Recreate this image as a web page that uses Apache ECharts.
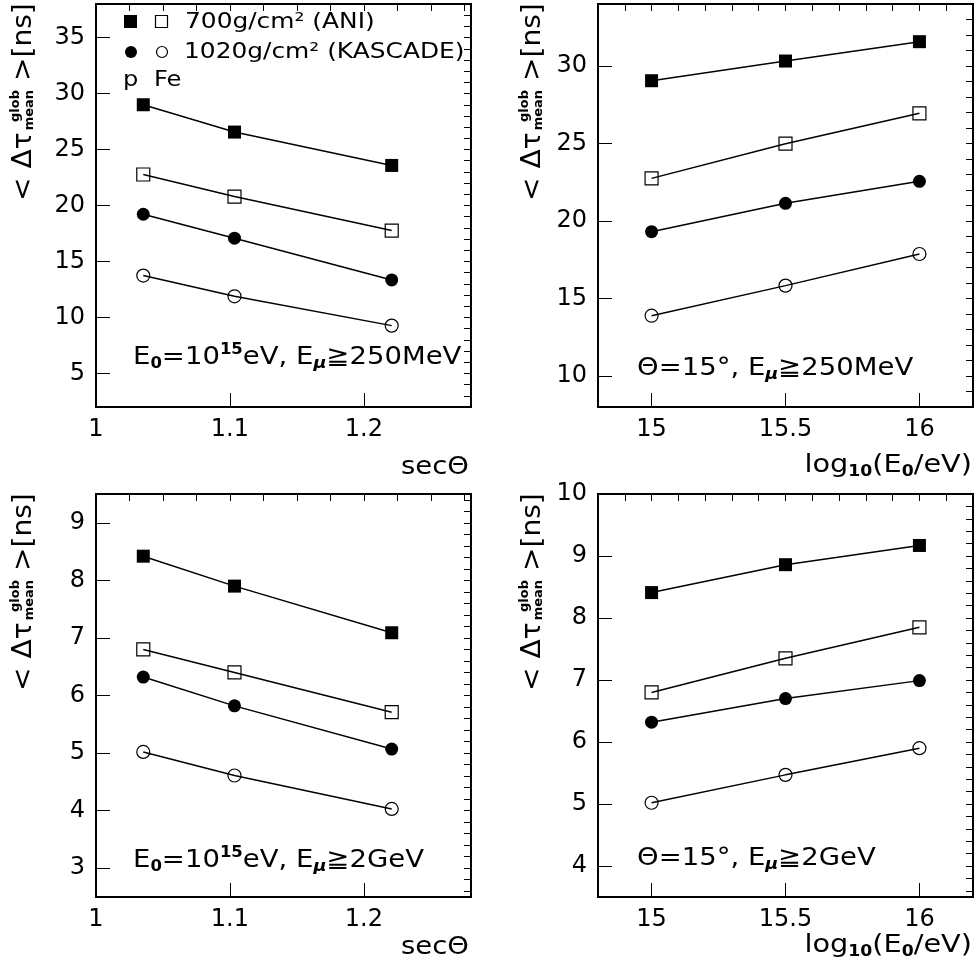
<!DOCTYPE html>
<html>
<head>
<meta charset="utf-8">
<script src="https://cdn.jsdelivr.net/npm/echarts@6/dist/echarts.min.js"></script>
<style>
  html, body { margin: 0; padding: 0; background: #fff; }
  #chart { width: 979px; height: 974px; }
</style>
</head>
<body>
<div id="chart"></div>
<script>
const FONT = 'DejaVu Sans';
const INK = '#000';

// abscissae
const secTheta = [1.0353, 1.1034, 1.2208];   // sec 15°, sec 25°, sec 35°
const logE0 = [15, 15.5, 16];

// <Δτ> [ns], E0 = 1e15 eV, Eμ ≥ 250 MeV, versus secΘ
const p700_250_sec   = [29.0, 26.56, 23.58];
const fe700_250_sec  = [22.77, 20.8, 17.76];
const p1020_250_sec  = [19.22, 17.08, 13.35];
const fe1020_250_sec = [13.74, 11.89, 9.27];

// Θ = 15°, Eμ ≥ 250 MeV, versus log10(E0/eV)
const p700_250_log   = [29.05, 30.32, 31.57];
const fe700_250_log  = [22.75, 24.99, 26.95];
const p1020_250_log  = [19.31, 21.14, 22.56];
const fe1020_250_log = [13.89, 15.83, 17.87];

// E0 = 1e15 eV, Eμ ≥ 2 GeV, versus secΘ
const p700_2_sec   = [8.42, 7.90, 7.09];
const fe700_2_sec  = [6.80, 6.40, 5.71];
const p1020_2_sec  = [6.32, 5.82, 5.07];
const fe1020_2_sec = [5.02, 4.61, 4.03];

// Θ = 15°, Eμ ≥ 2 GeV, versus log10(E0/eV)
const p700_2_log   = [8.41, 8.86, 9.17];
const fe700_2_log  = [6.80, 7.35, 7.85];
const p1020_2_log  = [6.32, 6.70, 6.99];
const fe1020_2_log = [5.02, 5.47, 5.90];

// tick labels
const secLabels = [1, 1.1, 1.2];
const logLabels = [15, 15.5, 16];
const yLabels250Sec = [5, 10, 15, 20, 25, 30, 35];
const yLabels250Log = [10, 15, 20, 25, 30];
const yLabels2Sec = [3, 4, 5, 6, 7, 8, 9];
const yLabels2Log = [4, 5, 6, 7, 8, 9, 10];

function seq(a, b, step) {
  const out = [];
  for (let v = a; v <= b + 1e-9; v += step) out.push(+v.toFixed(4));
  return out;
}

// marker styles: p (filled) / Fe (open), 700 g/cm² squares, 1020 g/cm² circles
const markers = [
  { symbol: 'rect', size: 13, fill: true },
  { symbol: 'rect', size: 13, fill: false },
  { symbol: 'circle', size: 13, fill: true },
  { symbol: 'circle', size: 13, fill: false }
];

const W = 375, H = 403;
const panels = [
  { left: 96, top: 4, xRange: [1, 1.28], xLabels: secLabels, xMinor: seq(1, 1.275, 0.025),
    yRange: [2, 38], yLabels: yLabels250Sec, yMinor: seq(3, 37, 1), xs: secTheta,
    ys: [p700_250_sec, fe700_250_sec, p1020_250_sec, fe1020_250_sec] },
  { left: 598, top: 4, xRange: [14.8, 16.2], xLabels: logLabels, xMinor: seq(14.9, 16.1, 0.1),
    yRange: [8, 34], yLabels: yLabels250Log, yMinor: seq(9, 33, 1), xs: logE0,
    ys: [p700_250_log, fe700_250_log, p1020_250_log, fe1020_250_log] },
  { left: 96, top: 494, xRange: [1, 1.28], xLabels: secLabels, xMinor: seq(1, 1.275, 0.025),
    yRange: [2.5, 9.5], yLabels: yLabels2Sec, yMinor: seq(2.6, 9.4, 0.2), xs: secTheta,
    ys: [p700_2_sec, fe700_2_sec, p1020_2_sec, fe1020_2_sec] },
  { left: 598, top: 494, xRange: [14.8, 16.2], xLabels: logLabels, xMinor: seq(14.9, 16.1, 0.1),
    yRange: [3.5, 10], yLabels: yLabels2Log, yMinor: seq(3.6, 9.8, 0.2), xs: logE0,
    ys: [p700_2_log, fe700_2_log, p1020_2_log, fe1020_2_log] }
];

function axisPair(gridIndex, range, labels, minor) {
  const base = {
    type: 'value', gridIndex, min: range[0], max: range[1],
    axisLine: { show: false }, splitLine: { show: false }
  };
  return [
    Object.assign({}, base, {
      axisTick: { show: true, inside: true, length: 14, customValues: labels,
                  lineStyle: { color: INK, width: 1 } },
      axisLabel: { show: true, customValues: labels, color: INK, fontFamily: FONT,
                   fontSize: 24, margin: 11 }
    }),
    Object.assign({}, base, {
      axisTick: { show: true, inside: true, length: 7, customValues: minor,
                  lineStyle: { color: INK, width: 1 } },
      axisLabel: { show: false }
    })
  ];
}

const grid = [], xAxis = [], yAxis = [], series = [];
panels.forEach((p, i) => {
  grid.push({ left: p.left, top: p.top, width: W, height: H, show: true,
              borderColor: INK, borderWidth: 2, backgroundColor: 'transparent' });
  xAxis.push(...axisPair(i, p.xRange, p.xLabels, p.xMinor));
  yAxis.push(...axisPair(i, p.yRange, p.yLabels, p.yMinor));
  p.ys.forEach((vals, k) => {
    const m = markers[k];
    series.push({
      type: 'line', xAxisIndex: 2 * i, yAxisIndex: 2 * i,
      data: p.xs.map((x, j) => [x, vals[j]]),
      symbol: m.symbol, symbolSize: m.size, showSymbol: true,
      lineStyle: { color: INK, width: 1.5 },
      itemStyle: { color: m.fill ? INK : 'rgba(0,0,0,0)', borderColor: INK,
                   borderWidth: m.fill ? 0 : 1.2 },
      emphasis: { disabled: true }, silent: true
    });
  });
});

// text helpers
const ctx = document.createElement('canvas').getContext('2d');
function tw(text, font) { ctx.font = font; return ctx.measureText(text).width; }

const subRich = {
  s: { fontSize: 15, fontWeight: 'bold', fontFamily: FONT, fill: INK, verticalAlign: 'bottom', lineHeight: 12 },
  p: { fontSize: 15, fontWeight: 'bold', fontFamily: FONT, fill: INK, verticalAlign: 'top', lineHeight: 12 },
  m: { fontSize: 16, fontWeight: 'bold', fontStyle: 'italic', fontFamily: FONT, fill: INK, verticalAlign: 'bottom', lineHeight: 12 }
};

function label(x, y, text, opts) {
  opts = opts || {};
  return {
    type: 'text', x, y, scaleX: opts.scaleX || 1.1, silent: true,
    style: {
      text, fill: INK, fontFamily: FONT, fontSize: opts.size || 25, lineHeight: opts.lh || 29,
      align: opts.align || 'left', verticalAlign: 'middle', rich: subRich
    }
  };
}

function yTitle(cx, bottom) {
  const big = 26, small = 12;
  const w1 = tw('< Δτ', big + 'px ' + FONT);
  const wm = tw('mean', 'bold ' + small + 'px ' + FONT);
  const wg = tw('glob', 'bold ' + small + 'px ' + FONT);
  const bigStyle = { fill: INK, fontFamily: FONT, fontSize: big, verticalAlign: 'middle', align: 'left' };
  const smallStyle = { fill: INK, fontFamily: FONT, fontSize: small, fontWeight: 'bold', verticalAlign: 'middle', align: 'left' };
  return {
    type: 'group', x: cx, y: bottom, rotation: Math.PI / 2, scaleX: 1.08, silent: true,
    children: [
      { type: 'text', x: 0, y: 0, style: Object.assign({ text: '< Δτ' }, bigStyle) },
      { type: 'text', x: w1 + 2, y: 6, style: Object.assign({ text: 'mean' }, smallStyle) },
      { type: 'text', x: w1 + 2 + wm - wg, y: -8, style: Object.assign({ text: 'glob' }, smallStyle) },
      { type: 'text', x: w1 + 2 + wm, y: 0, style: Object.assign({ text: ' >[ns]' }, bigStyle) }
    ]
  };
}

const graphic = [
  // axis titles
  yTitle(24, 201), yTitle(533, 201), yTitle(24, 691), yTitle(533, 691),
  label(469, 467, 'secΘ', { align: 'right' }),
  label(469, 947, 'secΘ', { align: 'right' }),
  label(972, 465, 'log{s|10}(E{s|0}/eV)', { align: 'right', scaleX: 1.15 }),
  label(972, 945, 'log{s|10}(E{s|0}/eV)', { align: 'right', scaleX: 1.15 }),
  // condition labels
  label(133, 357, 'E{s|0}=10{p|15}eV, E{m|μ}≧250MeV'),
  label(637, 368, 'Θ=15°, E{m|μ}≧250MeV'),
  label(133, 860, 'E{s|0}=10{p|15}eV, E{m|μ}≧2GeV'),
  label(637, 858, 'Θ=15°, E{m|μ}≧2GeV'),
  // legend
  { type: 'rect', silent: true, shape: { x: 124, y: 15, width: 13, height: 13 }, style: { fill: INK } },
  { type: 'rect', silent: true, shape: { x: 155.5, y: 15.5, width: 12, height: 12 }, style: { fill: 'none', stroke: INK, lineWidth: 1.2 } },
  { type: 'circle', silent: true, shape: { cx: 131, cy: 52, r: 6 }, style: { fill: INK } },
  { type: 'circle', silent: true, shape: { cx: 162, cy: 52, r: 5.5 }, style: { fill: 'none', stroke: INK, lineWidth: 1.2 } },
  label(185, 22, '700g/cm² (ANI)', { size: 22, scaleX: 1.13 }),
  label(184, 52, '1020g/cm² (KASCADE)', { size: 22, scaleX: 1.13 }),
  label(123, 80, 'p', { size: 22 }),
  label(154, 80, 'Fe', { size: 22 })
];

const chart = echarts.init(document.getElementById('chart'), null, { renderer: 'canvas' });
chart.setOption({
  backgroundColor: '#fff',
  animation: false,
  grid, xAxis, yAxis, series, graphic
});
</script>
</body>
</html>
